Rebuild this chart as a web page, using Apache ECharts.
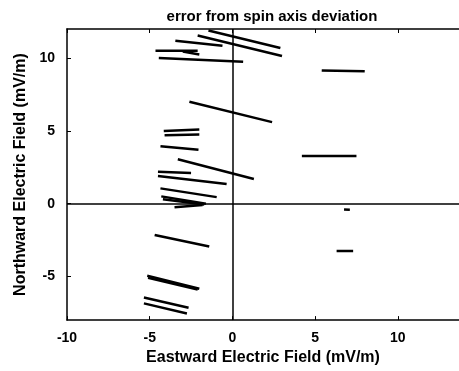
<!DOCTYPE html>
<html>
<head>
<meta charset="utf-8">
<script src="https://cdn.jsdelivr.net/npm/echarts@6/dist/echarts.min.js"></script>
<style>
  html, body { margin: 0; padding: 0; background: #fff; }
  #chart { width: 459px; height: 371px; }
</style>
</head>
<body>
<div id="chart"></div>
<script>
// segment end points (mV/m)
var xStart = [-1.45, -2.1, -3.45, -4.65, -3.0, -4.45, 5.4, -2.6, -4.15, -4.1, -4.35, 4.2, -3.3, -4.5, -4.5, -4.35, -4.3, -4.2, -3.5, 6.75, -4.7, 6.3, -5.15, -5.1, -5.35, -5.35];
var yStart = [11.9, 11.55, 11.2, 10.5, 10.45, 10.0, 9.15, 7.0, 5.0, 4.7, 3.95, 3.27, 3.05, 2.2, 1.9, 1.05, 0.5, 0.3, -0.25, -0.4, -2.15, -3.25, -4.95, -5.1, -6.45, -6.85];
var xEnd = [2.9, 3.0, -0.6, -2.1, -2.0, 0.65, 8.0, 2.4, -2.0, -2.0, -2.05, 7.5, 1.3, -2.5, -0.35, -0.95, -1.6, -1.7, -1.8, 7.1, -1.4, 7.3, -2.0, -2.1, -2.65, -2.75];
var yEnd = [10.7, 10.15, 10.85, 10.5, 10.25, 9.75, 9.1, 5.6, 5.1, 4.75, 3.7, 3.27, 1.7, 2.1, 1.35, 0.45, 0.0, -0.05, -0.1, -0.42, -2.95, -3.25, -5.85, -5.9, -7.15, -7.55];
var tickValues = [-10, -5, 0, 5, 10];
var yTickValues = [-5, 0, 5, 10];

var chart = echarts.init(document.getElementById("chart"));

var font = "Liberation Sans";
var series = [];
xStart.forEach(function (x, i) {
  series.push({
    type: "line",
    xAxisIndex: 0,
    data: [[x, yStart[i]], [xEnd[i], yEnd[i]]],
    showSymbol: false,
    silent: true,
    lineStyle: { color: "#000", width: 2.5 },
  });
});
// zero lines
series.push({
  type: "line",
  data: [],
  markLine: {
    silent: true,
    symbol: "none",
    label: { show: false },
    lineStyle: { color: "#000", type: "solid", width: 1.5 },
    data: [{ xAxis: 0 }, { yAxis: 0 }],
  },
});

chart.setOption({
  animation: false,
  title: {
    text: "error from spin axis deviation",
    left: 267,
    textAlign: "center",
    top: 4,
    textStyle: { fontFamily: font, fontWeight: "bold", fontSize: 15, color: "#000" },
  },
  grid: { left: 67, right: 0, top: 29, bottom: 48, containLabel: false },
  xAxis: [
    {
      type: "value",
      position: "bottom",
      min: -10,
      max: 13.7,
      interval: 5,
      name: "Eastward Electric Field (mV/m)",
      nameLocation: "middle",
      nameGap: 20,
      nameTextStyle: { fontFamily: font, fontWeight: "bold", fontSize: 16, color: "#000" },
      axisLine: { show: true, onZero: false, lineStyle: { color: "#000", width: 1.5 } },
      axisTick: { show: true, inside: true, length: 4, customValues: tickValues, lineStyle: { color: "#000" } },
      axisLabel: { customValues: tickValues, margin: 11, fontFamily: font, fontWeight: "bold", fontSize: 14, color: "#000" },
      splitLine: { show: false },
    },
    {
      type: "value",
      position: "top",
      min: -10,
      max: 13.7,
      interval: 5,
      axisLine: { show: true, onZero: false, lineStyle: { color: "#000", width: 1.5 } },
      axisTick: { show: true, inside: true, length: 4, customValues: tickValues, lineStyle: { color: "#000" } },
      axisLabel: { show: false },
      splitLine: { show: false },
    },
  ],
  yAxis: {
    type: "value",
    min: -8,
    max: 12,
    name: "Northward Electric Field (mV/m)",
    nameLocation: "middle",
    nameGap: 35,
    nameTextStyle: { fontFamily: font, fontWeight: "bold", fontSize: 16, color: "#000" },
    axisLine: { show: true, onZero: false, lineStyle: { color: "#000", width: 1.5 } },
    axisTick: { show: true, inside: true, length: 4, customValues: yTickValues, lineStyle: { color: "#000" } },
    axisLabel: { customValues: yTickValues, margin: 12, fontFamily: font, fontWeight: "bold", fontSize: 14, color: "#000" },
    splitLine: { show: false },
  },
  series: series,
});
</script>
</body>
</html>
